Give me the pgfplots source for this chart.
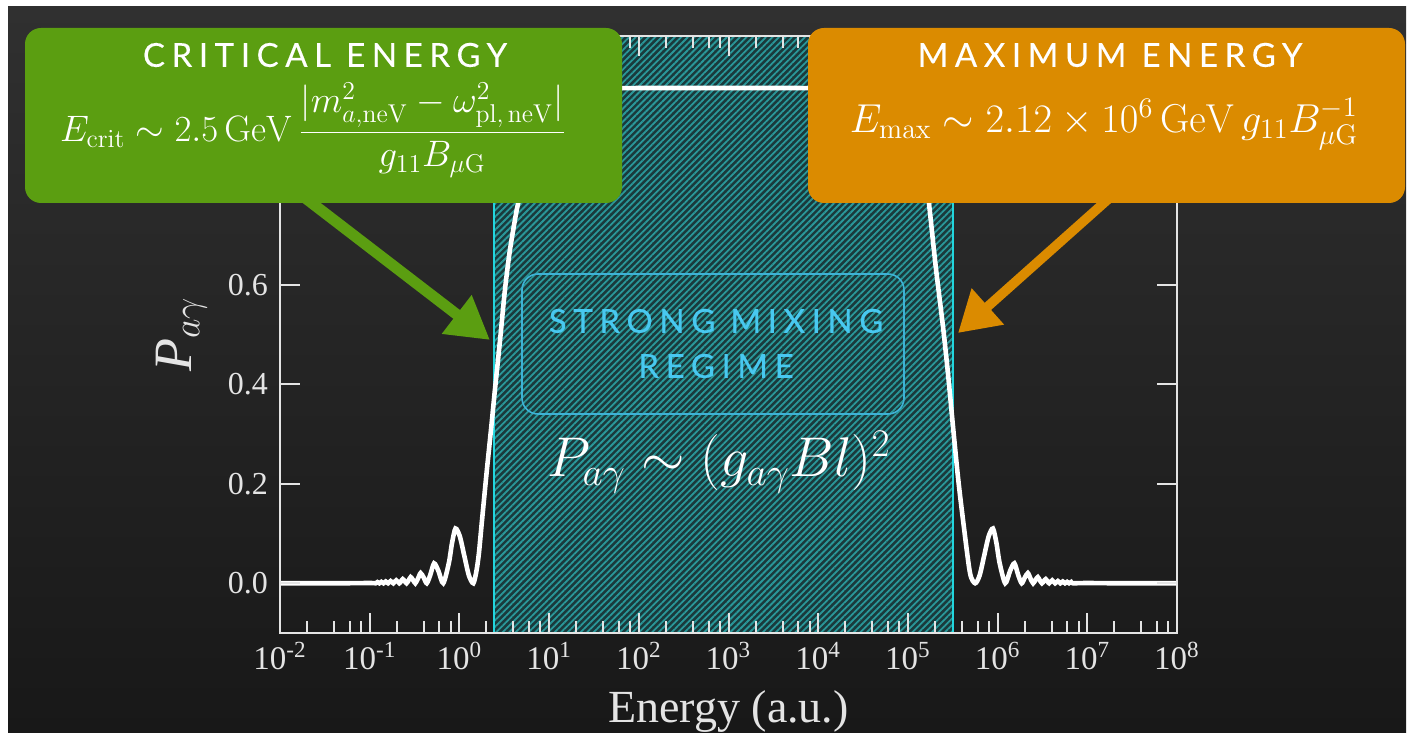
\RequirePackage{fix-cm}
\documentclass[border=0pt]{standalone}
\usepackage{amsmath}
\usepackage[no-math]{fontspec}
\setmainfont{Liberation Serif}
\newfontfamily\capsfont[LetterSpace=20, FakeBold=0.25]{Lato}
\usepackage{pgfplots}
\pgfplotsset{compat=1.18}
\usetikzlibrary{arrows.meta,patterns.meta}

\definecolor{bgtop}{RGB}{48,48,48}
\definecolor{bgbot}{RGB}{24,24,24}
\definecolor{axiscol}{RGB}{228,228,228}
\definecolor{greenbox}{RGB}{91,158,17}
\definecolor{orangebox}{RGB}{219,139,0}
\definecolor{hatchbg}{RGB}{26,58,60}
\definecolor{hatchln}{RGB}{42,152,154}
\definecolor{edgecyan}{RGB}{34,214,222}
\definecolor{boxline}{RGB}{62,178,214}
\definecolor{mixcyan}{RGB}{72,200,240}

\begin{document}
\begin{tikzpicture}
% page background with a thin light margin
\fill[white] (0pt,0pt) rectangle (705pt,369pt);
\shade[top color=bgtop, bottom color=bgbot] (4pt,2.5pt) rectangle (703pt,365.5pt);

\begin{axis}[
  at={(140pt,52.5pt)}, anchor=south west,
  scale only axis, width=448.5pt, height=298.5pt,
  xmode=log, xmin=1e-2, xmax=1e8,
  ymin=-0.1, ymax=1.1,
  axis on top,
  axis line style={axiscol, line width=1.2pt},
  every tick/.style={axiscol, line width=1pt},
  major tick length=10pt, minor tick length=6pt,
  xtick={1e-2,1e-1,1e0,1e1,1e2,1e3,1e4,1e5,1e6,1e7,1e8},
  minor xtick={2e-2,4e-2,6e-2,8e-2, 2e-1,4e-1,6e-1,8e-1, 2,4,6,8, 20,40,60,80,
    200,400,600,800, 2e3,4e3,6e3,8e3, 2e4,4e4,6e4,8e4, 2e5,4e5,6e5,8e5,
    2e6,4e6,6e6,8e6, 2e7,4e7,6e7,8e7},
  xticklabels={10\textsuperscript{-2},10\textsuperscript{-1},10\textsuperscript{0},10\textsuperscript{1},10\textsuperscript{2},10\textsuperscript{3},10\textsuperscript{4},10\textsuperscript{5},10\textsuperscript{6},10\textsuperscript{7},10\textsuperscript{8}},
  ytick={0,0.2,0.4,0.6,0.8,1.0},
  yticklabels={0.0,0.2,0.4,0.6,0.8,1.0},
  tick label style={text=axiscol},
  xticklabel style={font=\fontsize{16.5}{16.5}\selectfont, yshift=-1pt},
  yticklabel style={font=\fontsize{16}{16}\selectfont, xshift=-2.5pt},
  xlabel={Energy (a.u.)},
  ylabel={\textit{P}$_{a\gamma}$},
  xlabel style={font=\fontsize{23}{23}\selectfont, text=axiscol,
    at={(axis description cs:0.5,-0.1323)}, anchor=center},
  ylabel style={font=\fontsize{27}{27}\selectfont, text=axiscol,
    at={(axis description cs:-0.11,0.5)}, anchor=center},
]
% strong-mixing band
\addplot[draw=none, fill=hatchbg]
  coordinates {(2.43,-0.1) (2.43,1.1) (3.21e5,1.1) (3.21e5,-0.1)} -- cycle;
\addplot[draw=none, pattern={Lines[angle=45,distance=2.3pt,line width=0.9pt]}, pattern color=hatchln]
  coordinates {(2.43,-0.1) (2.43,1.1) (3.21e5,1.1) (3.21e5,-0.1)} -- cycle;
\addplot[edgecyan, line width=1.1pt] coordinates {(2.43,-0.1) (2.43,1.1)};
\addplot[edgecyan, line width=1.1pt] coordinates {(3.21e5,-0.1) (3.21e5,1.1)};

% conversion probability
\addplot[white, line width=2.3pt, smooth, tension=0.45] coordinates {
(0.01,0) (0.05,0) (0.1,0.0005)
(0.1165,0) (0.1220,0.0023) (0.1282,0) (0.1349,0.0028) (0.1424,0)
(0.1508,0.0035) (0.1603,0) (0.1710,0.0044) (0.1833,0) (0.1975,0.0059)
(0.2141,0) (0.2235,0.0038) (0.2337,0.0083) (0.2449,0.0045) (0.2573,0)
(0.2710,0.0055) (0.2862,0.0123) (0.3033,0.0069) (0.3225,0)
(0.3444,0.0089) (0.3695,0.0204) (0.3986,0.0118) (0.4327,0)
(0.4733,0.0165) (0.5226,0.0400) (0.5835,0.0247) (0.6610,0)
(0.7632,0.0408) (0.8279,0.081) (0.905,0.110) (1.012,0.094)
(1.135,0.055) (1.274,0.016) (1.43,0)
(1.55,0.025) (1.65,0.06) (1.773,0.12) (2.01,0.222) (2.29,0.322)
(2.49,0.389) (2.84,0.489) (3.22,0.59) (3.66,0.67) (4.35,0.75)
(4.74,0.78) (5.5,0.85) (6.5,0.91) (8,0.955) (10,0.978) (13,0.99)
(20,0.995) (3.0e4,0.995)
(6.11e4,0.99) (7.943e4,0.978) (9.93e4,0.955) (1.222e5,0.91)
(1.445e5,0.85) (1.675e5,0.78) (1.95e5,0.67) (2.084e5,0.623)
(2.483e5,0.51) (2.818e5,0.416) (3.206e5,0.309) (3.639e5,0.209)
(4.150e5,0.122) (4.920e5,0.021) (5.623e5,0)
(6.310e5,0.016) (7.079e5,0.055) (7.943e5,0.094) (8.872e5,0.110)
(9.70e5,0.081) (1.053e6,0.0408) (1.2157e6,0)
(1.377e6,0.0247) (1.538e6,0.0400) (1.698e6,0.0165) (1.857e6,0)
(2.016e6,0.0118) (2.175e6,0.0204) (2.333e6,0.0089) (2.492e6,0)
(2.649e6,0.0069) (2.808e6,0.0123) (2.965e6,0.0055) (3.123e6,0)
(3.281e6,0.0045) (3.438e6,0.0083) (3.595e6,0.0038) (3.753e6,0)
(4.068e6,0.0059) (4.384e6,0) (4.699e6,0.0044) (5.013e6,0)
(5.329e6,0.0035) (5.643e6,0) (5.957e6,0.0028) (6.268e6,0)
(6.586e6,0.0023) (6.898e6,0) (1e7,0.0005) (2e7,0) (1e8,0)
};
\end{axis}

\begin{scope}[x=1pt,y=1pt]
% pointers from the call-outs to the band edges
\draw[greenbox, line width=5.5pt, -{Triangle[length=21pt,width=23pt]}] (150,272) -- (245,199);
\draw[orangebox, line width=4.8pt, -{Triangle[length=20pt,width=23pt]}] (557,272) -- (479,202.5);

% call-out boxes
\fill[greenbox, rounded corners=8pt] (12.5,267.5) rectangle (311,355);
\fill[orangebox, rounded corners=8pt] (404,267.5) rectangle (702.5,355);

\node[text=white, font=\capsfont\fontsize{16.5}{16.5}\selectfont] at (162.5,341.5) {CRITICAL ENERGY};
\node[text=white, font=\fontsize{18.4}{22}\selectfont] at (156.5,304)
  {$\displaystyle E_{\mathrm{crit}}\sim 2.5\,\mathrm{GeV}\,\frac{|m^2_{a,\mathrm{neV}}-\omega^2_{\mathrm{pl,\,neV}}|}{g_{11}B_{\mu\mathrm{G}}}$};

\node[text=white, font=\capsfont\fontsize{16.5}{16.5}\selectfont] at (555,341.5) {MAXIMUM ENERGY};
\node[text=white, font=\fontsize{20.2}{24}\selectfont] at (552,307)
  {$E_{\mathrm{max}}\sim 2.12\times 10^{6}\,\mathrm{GeV}\,g_{11}B_{\mu\mathrm{G}}^{-1}$};

% strong-mixing label
\draw[boxline, line width=0.8pt, rounded corners=8pt] (261,162) rectangle (452,232);
\node[text=mixcyan, font=\capsfont\fontsize{16.5}{16.5}\selectfont] at (358,208.5) {STRONG MIXING};
\node[text=mixcyan, font=\capsfont\fontsize{16.5}{16.5}\selectfont] at (358,186) {REGIME};
\node[text=white, font=\fontsize{28}{32}\selectfont] at (359.5,138) {$P_{a\gamma}\sim(g_{a\gamma}Bl)^2$};
\end{scope}

\pgfresetboundingbox
\useasboundingbox (0pt,0pt) rectangle (705pt,369pt);
\end{tikzpicture}
\end{document}
